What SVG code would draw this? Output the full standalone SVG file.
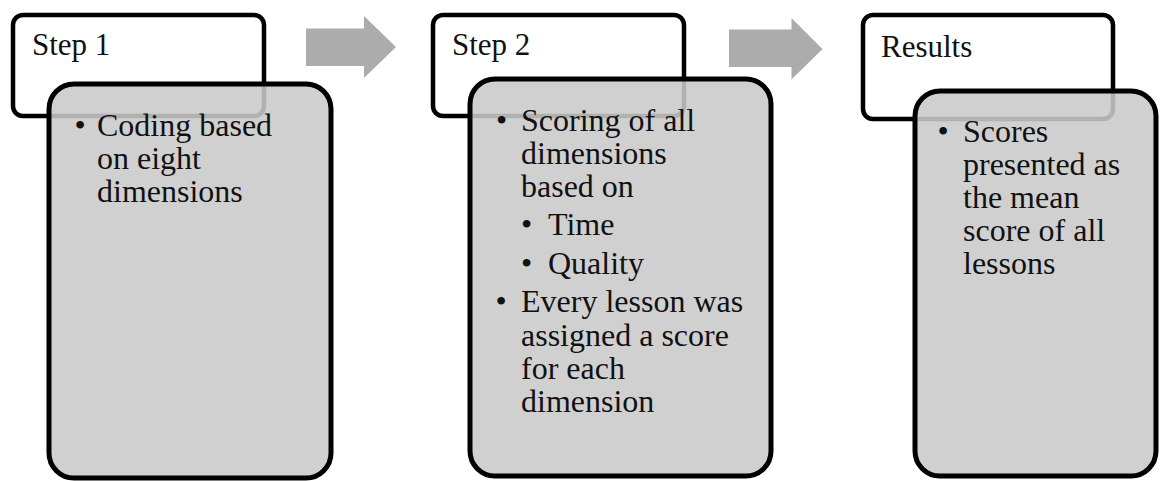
<svg xmlns="http://www.w3.org/2000/svg" width="1160" height="481" viewBox="0 0 1160 481">
<style>
.hdr{fill:#ffffff;stroke:#000000;stroke-width:4.5}
.body{fill:#c9c9c9;fill-opacity:0.88;stroke:#000000;stroke-width:5}
.arrow{fill:#acacac}
text{font-family:"Liberation Serif","Times New Roman",serif;font-size:32px;fill:#111111}
text.h{font-size:31px}
</style>
<rect width="1160" height="481" fill="#ffffff"/>
<g id="connectors">
<polygon class="arrow" points="306,28.5 364,28.5 364,16 396,47 364,78 364,66 306,66"/>
<polygon class="arrow" points="729,29.5 791.5,29.5 791.5,18 822.5,49 791.5,79.5 791.5,67 729,67"/>
</g>
<g id="step1">
<rect class="hdr" x="13" y="15" width="251" height="101" rx="10"/>
<text class="h" x="32" y="55">Step 1</text>
</g>
<g id="step1-detail">
<rect class="body" x="49" y="84" width="282" height="394" rx="25"/>
<text x="74.4" y="136">•</text>
<text x="97" y="136">Coding based</text>
<text x="97" y="169">on eight</text>
<text x="97" y="202">dimensions</text>
</g>
<g id="step2">
<rect class="hdr" x="433" y="15" width="251" height="101" rx="10"/>
<text class="h" x="452" y="55">Step 2</text>
</g>
<g id="step2-detail">
<rect class="body" x="470" y="79" width="301" height="397" rx="25"/>
<text x="496.1" y="131">•</text>
<text x="521" y="131">Scoring of all</text>
<text x="521" y="164">dimensions</text>
<text x="521" y="197">based on</text>
<text x="521.1" y="235">•</text>
<text x="548" y="235">Time</text>
<text x="521.1" y="274">•</text>
<text x="548" y="274">Quality</text>
<text x="495.4" y="312">•</text>
<text x="521" y="312">Every lesson was</text>
<text x="521" y="346">assigned a score</text>
<text x="521" y="379">for each</text>
<text x="521" y="412">dimension</text>
</g>
<g id="results">
<rect class="hdr" x="863" y="15" width="250" height="104" rx="10"/>
<text class="h" x="881" y="57">Results</text>
</g>
<g id="results-detail">
<rect class="body" x="915" y="91" width="241" height="385" rx="25"/>
<text x="937.4" y="142">•</text>
<text x="963" y="142">Scores</text>
<text x="963" y="175">presented as</text>
<text x="963" y="208">the mean</text>
<text x="963" y="241">score of all</text>
<text x="963" y="274">lessons</text>
</g>
</svg>
